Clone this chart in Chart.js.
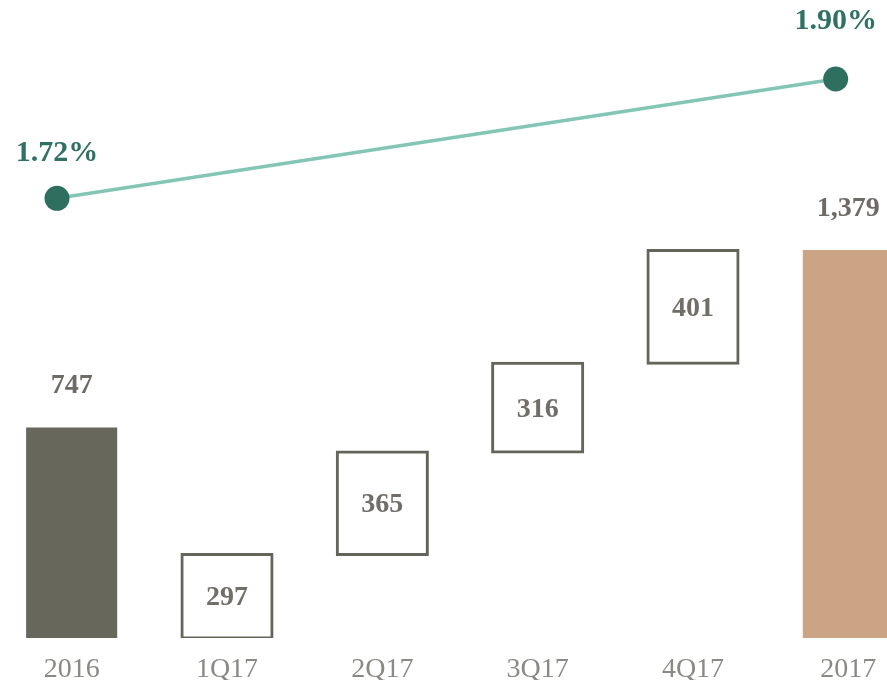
<!DOCTYPE html>
<html>
<head>
<meta charset="utf-8">
<script src="https://cdn.jsdelivr.net/npm/chart.js@4/dist/chart.umd.min.js"></script>
<style>
  html, body { margin: 0; padding: 0; background: #ffffff; overflow: hidden; }
  #frame { position: relative; width: 887px; height: 680px; overflow: hidden; }
  #chart { position: absolute; left: -6px; top: 0; }
</style>
</head>
<body>
<div id="frame"><canvas id="chart" width="932" height="680"></canvas></div>
<script>
// Periods along the bottom axis
const categories = ['2016', '1Q17', '2Q17', '3Q17', '4Q17', '2017'];
// Opening and closing totals
const openingTotal = 747;
const closingTotal = 1379;
// Quarterly additions that build up the closing total
const quarterAdds = [297, 365, 316, 401];
// Rate shown on the line (only the two year ends carry a value)
const rates = [1.72, null, null, null, null, 1.90];

// Floating ranges for the quarterly boxes, accumulated from zero
const barData = [openingTotal];
let running = 0;
quarterAdds.forEach(v => { barData.push([running, running + v]); running += v; });
barData.push(closingTotal);

const ratePoints = rates
  .map((v, i) => (v === null ? null : { x: i, y: v }))
  .filter(p => p !== null);

const SERIF = '"Liberation Serif", "Times New Roman", serif';

const valueLabels = {
  id: 'valueLabels',
  afterDatasetsDraw(chart) {
    const ctx = chart.ctx;
    ctx.save();
    ctx.textAlign = 'center';
    ctx.textBaseline = 'middle';

    // Bar and box values
    const barMeta = chart.getDatasetMeta(0);
    barMeta.data.forEach((el, i) => {
      const raw = barData[i];
      const value = Array.isArray(raw) ? raw[1] - raw[0] : raw;
      const text = value.toLocaleString('en-US');
      ctx.font = 'bold 28px ' + SERIF;
      if (Array.isArray(raw)) {
        ctx.fillStyle = '#716e69';
        ctx.fillText(text, el.x, (el.y + el.base) / 2 + 2);
      } else {
        ctx.fillStyle = '#6e6b66';
        ctx.fillText(text, el.x, el.y - 42);
      }
    });

    // Rate values above the line points
    const lineMeta = chart.getDatasetMeta(1);
    const lifts = [45, 58];
    lineMeta.data.forEach((el, i) => {
      ctx.font = 'bold 30px ' + SERIF;
      ctx.fillStyle = '#2f7163';
      ctx.fillText(ratePoints[i].y.toFixed(2) + '%', el.x, el.y - lifts[i]);
    });
    ctx.restore();
  }
};

new Chart(document.getElementById('chart'), {
  type: 'bar',
  data: {
    labels: categories,
    datasets: [
      {
        type: 'bar',
        data: barData,
        xAxisID: 'x',
        yAxisID: 'y',
        backgroundColor: ['#67675c', '#ffffff', '#ffffff', '#ffffff', '#ffffff', '#cba385'],
        borderColor: '#64645b',
        borderWidth: [0, 3, 3, 3, 3, 0],
        borderSkipped: false,
        inflateAmount: [0.5, 1.5, 1.5, 1.5, 1.5, 0.5],
        grouped: false,
        categoryPercentage: 1,
        barPercentage: 0.58,
        order: 2
      },
      {
        type: 'line',
        data: ratePoints,
        xAxisID: 'x2',
        yAxisID: 'y2',
        borderColor: '#84c6b6',
        borderWidth: 3.5,
        pointRadius: 12.5,
        pointBorderWidth: 0,
        pointBackgroundColor: '#2f6f60',
        pointHoverRadius: 12.5,
        fill: false,
        tension: 0,
        clip: false,
        order: 1
      }
    ]
  },
  options: {
    responsive: false,
    devicePixelRatio: 1,
    animation: false,
    layout: { padding: 0, autoPadding: false },
    plugins: {
      legend: { display: false },
      tooltip: { enabled: false }
    },
    scales: {
      x: {
        type: 'category',
        offset: true,
        grid: { display: false, drawTicks: false },
        border: { display: false },
        ticks: {
          color: '#8b8985',
          font: { family: SERIF, size: 28 },
          padding: 15,
          maxRotation: 0,
          autoSkip: false
        },
        afterFit(scale) { scale.height = 42; }
      },
      x2: {
        type: 'linear',
        display: false,
        offset: false,
        grid: { offset: false },
        min: -0.4045,
        max: 5.58
      },
      y: {
        display: false,
        min: 0,
        max: 2270
      },
      y2: {
        display: false,
        position: 'right',
        min: 1.0566,
        max: 2.0192
      }
    }
  },
  plugins: [valueLabels]
});
</script>
</body>
</html>
